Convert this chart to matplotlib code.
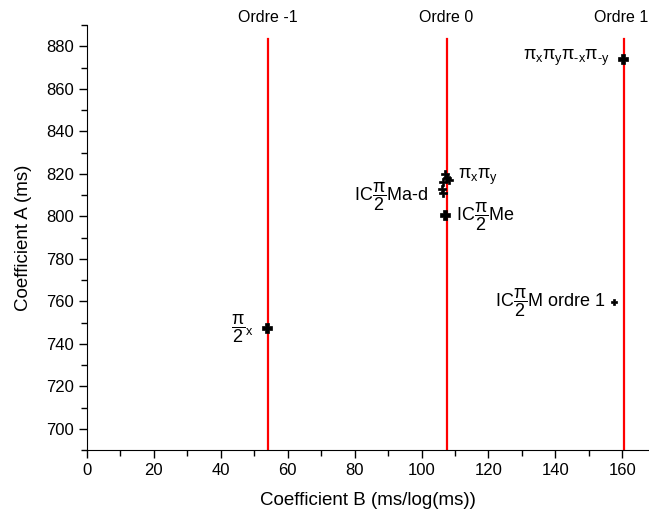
import matplotlib
matplotlib.use("Agg")
import matplotlib.pyplot as plt
from matplotlib.ticker import MultipleLocator

plt.rcParams['font.family'] = ['Liberation Sans', 'DejaVu Sans']
plt.rcParams['mathtext.fontset'] = 'custom'
plt.rcParams['mathtext.rm'] = 'Liberation Sans'
plt.rcParams['mathtext.it'] = 'Liberation Sans'
plt.rcParams['mathtext.bf'] = 'Liberation Sans'

# Order reference lines
order_B = [54.2, 107.5, 160.4]
order_labels = ['Ordre -1', 'Ordre 0', 'Ordre 1']
order_line_top = 883.5

# Measured points
coef_B = [53.9, 107.0, 107.6, 108.3, 106.4, 106.2, 106.3, 107.0, 157.6, 160.3]
coef_A = [747.2, 820.0, 818.0, 817.0, 816.0, 813.0, 811.0, 800.8, 759.8, 874.0]

# Annotations
ann_texts = [r'$\dfrac{\pi}{2}_{\mathrm{x}}$',
             r'IC$\dfrac{\pi}{2}$Ma-d',
             r'$\pi_{\mathrm{x}}\pi_{\mathrm{y}}$',
             r'IC$\dfrac{\pi}{2}$Me',
             r'$\pi_{\mathrm{x}}\pi_{\mathrm{y}}\pi_{\text{-x}}\pi_{\text{-y}}$',
             r'IC$\dfrac{\pi}{2}$M ordre 1']

fig = plt.figure(figsize=(6.49, 5.16), dpi=100)
ax = fig.add_axes([87/649, 1-450/516, 1-87/649, (450-25)/516])

for xb in order_B:
    ax.plot([xb, xb], [690, order_line_top], color='#ff0000', lw=1.6, zorder=2)
label_x = [order_B[0], order_B[1], order_B[2] - 0.8]
for xb, lab in zip(label_x, order_labels):
    ax.text(xb, 893.5, lab, ha='center', va='center', fontsize=11.5, clip_on=False)

sizes = [7, 6, 6, 6, 6, 6, 6, 7, 4, 7]
for b, a, s in zip(coef_B, coef_A, sizes):
    ax.plot(b, a, marker='P', ms=s, color='black', mec='black', mew=0.5, ls='none', zorder=3)

fs = 13
ax.text(50.0, 747.0, ann_texts[0], ha='right', va='center', fontsize=fs)
ax.text(102.0, 809.0, ann_texts[1], ha='right', va='center', fontsize=fs)
ax.text(110.8, 818.5, ann_texts[2], ha='left', va='center', fontsize=fs)
ax.text(110.3, 800.0, ann_texts[3], ha='left', va='center', fontsize=fs)
ax.text(130.4, 874.5, ann_texts[4], ha='left', va='center', fontsize=fs)
ax.text(122.0, 759.5, ann_texts[5], ha='left', va='center', fontsize=fs)

ax.set_xlim(0, 168)
ax.set_ylim(690, 890)
ax.xaxis.set_major_locator(MultipleLocator(20))
ax.xaxis.set_minor_locator(MultipleLocator(10))
ax.yaxis.set_major_locator(MultipleLocator(20))
ax.yaxis.set_minor_locator(MultipleLocator(10))
ax.set_yticks(range(700, 881, 20))
ax.spines['top'].set_visible(False)
ax.spines['right'].set_visible(False)
ax.tick_params(which='major', direction='out', length=6, width=1, labelsize=12)
ax.tick_params(which='minor', direction='out', length=4, width=1)
ax.set_xlabel('Coefficient B (ms/log(ms))', fontsize=13.5, labelpad=10)
ax.set_ylabel('Coefficient A (ms)', fontsize=13.5, labelpad=10)

fig.savefig('out.png', dpi=100)
